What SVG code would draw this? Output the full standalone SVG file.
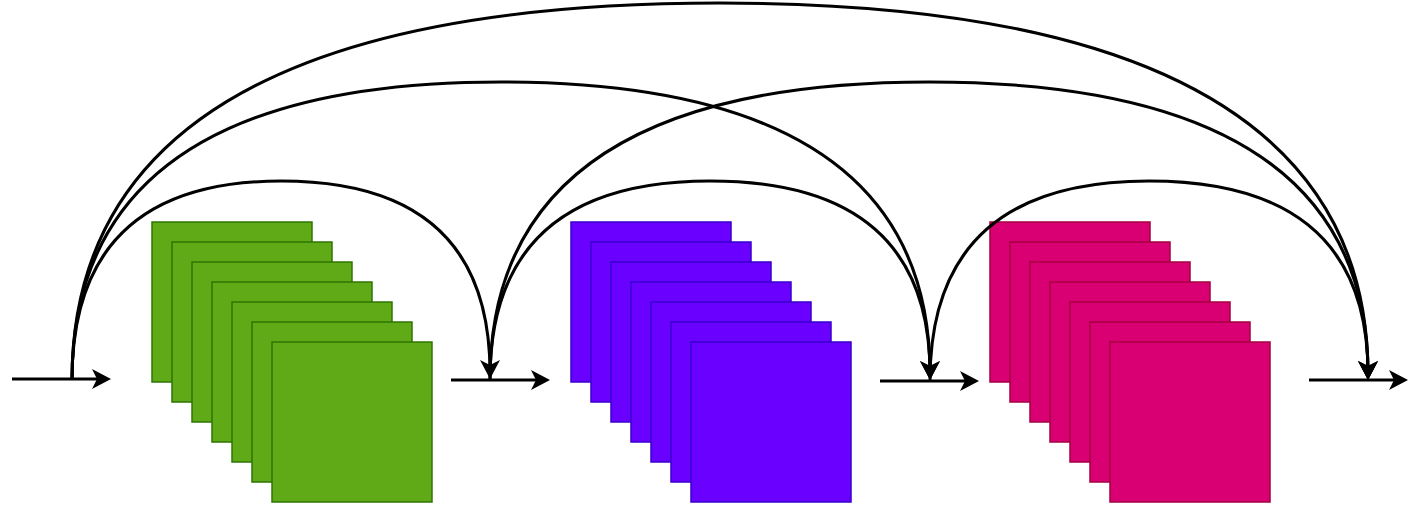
<svg xmlns="http://www.w3.org/2000/svg" width="1426" height="506" viewBox="0 0 1426 506">
<style>
.g rect{fill:#60a917;stroke:#2d7600;stroke-width:1.5}
.p rect{fill:#6a00ff;stroke:#3700cc;stroke-width:1.5}
.k rect{fill:#d80073;stroke:#a50040;stroke-width:1.5}
.c path{fill:none;stroke:#000;stroke-width:3}
</style>
<defs>
<marker id="ah" markerUnits="userSpaceOnUse" viewBox="-15 -11 23 22" refX="0" refY="0" markerWidth="23" markerHeight="22" orient="auto" overflow="visible">
<path d="M6,0 L-13,-10 L-8,0 L-13,10 Z" fill="#000"/>
</marker>
</defs>
<rect width="1426" height="506" fill="#fff"/>
<g id="stack-green" class="g">
<rect x="152" y="222" width="160" height="160"/>
<rect x="172" y="242" width="160" height="160"/>
<rect x="192" y="262" width="160" height="160"/>
<rect x="212" y="282" width="160" height="160"/>
<rect x="232" y="302" width="160" height="160"/>
<rect x="252" y="322" width="160" height="160"/>
<rect x="272" y="342" width="160" height="160"/>
</g>
<g id="stack-purple" class="p">
<rect x="571" y="222" width="160" height="160"/>
<rect x="591" y="242" width="160" height="160"/>
<rect x="611" y="262" width="160" height="160"/>
<rect x="631" y="282" width="160" height="160"/>
<rect x="651" y="302" width="160" height="160"/>
<rect x="671" y="322" width="160" height="160"/>
<rect x="691" y="342" width="160" height="160"/>
</g>
<g id="stack-pink" class="k">
<rect x="990" y="222" width="160" height="160"/>
<rect x="1010" y="242" width="160" height="160"/>
<rect x="1030" y="262" width="160" height="160"/>
<rect x="1050" y="282" width="160" height="160"/>
<rect x="1070" y="302" width="160" height="160"/>
<rect x="1090" y="322" width="160" height="160"/>
<rect x="1110" y="342" width="160" height="160"/>
</g>
<g id="connectors" class="c">
<path d="M12,379 L105,379" marker-end="url(#ah)"/>
<path d="M451,380 L544,380" marker-end="url(#ah)"/>
<path d="M880,381 L973,381" marker-end="url(#ah)"/>
<path d="M1309,380 L1402,380" marker-end="url(#ah)"/>
<path d="M72,380 Q72,181 281,181 Q490,181 490,373" marker-end="url(#ah)"/>
<path d="M72,380 Q72,82 501,82 Q930,82 930,374" marker-end="url(#ah)"/>
<path d="M72,380 Q72,3 720,3 Q1368,3 1368,374" marker-end="url(#ah)"/>
<path d="M490,380 Q490,181 710,181 Q930,181 930,374" marker-end="url(#ah)"/>
<path d="M490,380 Q490,82 929,82 Q1368,82 1368,374" marker-end="url(#ah)"/>
<path d="M930,381 Q930,181 1149,181 Q1368,181 1368,374" marker-end="url(#ah)"/>
</g>
</svg>
